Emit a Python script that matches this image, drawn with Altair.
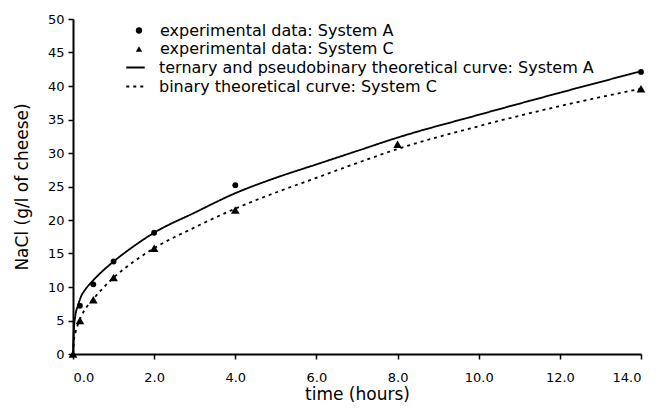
import altair as alt
import pandas as pd

# Experimental data
t_a = [0.17, 0.5, 1, 2, 4, 14]
y_a = [7.2, 10.4, 13.8, 18.1, 25.2, 42.1]
t_c = [0, 0.17, 0.5, 1, 2, 4, 8, 14]
y_c = [0, 5.0, 8.1, 11.4, 15.8, 21.5, 31.3, 39.6]

# Theoretical curves
curve_t_a = [0, 0.02, 0.06, 0.12, 0.2, 0.3, 0.5, 0.75, 1, 1.5, 2, 3, 4, 5, 6, 7, 8, 10, 12, 14]
curve_y_a = [0, 3.5, 5.8, 7.2, 8.6, 9.6, 11.0, 12.5, 13.8, 16.1, 18.1, 21.1, 24.0, 26.3, 28.3, 30.3, 32.3, 35.7, 39.0, 42.2]
curve_t_c = [0, 0.02, 0.06, 0.12, 0.2, 0.3, 0.5, 0.75, 1, 1.5, 2, 3, 4, 5, 6, 7, 8, 10, 12, 14]
curve_y_c = [0, 1.8, 3.2, 4.4, 5.6, 6.7, 8.2, 9.9, 11.4, 13.8, 15.8, 18.9, 21.7, 24.1, 26.3, 28.5, 30.6, 34.0, 37.0, 39.6]

point_labels = ["experimental data: System A", "experimental data: System C"]
line_labels = ["ternary and pseudobinary theoretical curve: System A",
               "binary theoretical curve: System C"]

pts_a = pd.DataFrame({"t": t_a, "y": y_a, "label": point_labels[0]})
pts_c = pd.DataFrame({"t": t_c, "y": y_c, "label": point_labels[1]})
curves = pd.concat([
    pd.DataFrame({"t": curve_t_a, "y": curve_y_a, "label": line_labels[0]}),
    pd.DataFrame({"t": curve_t_c, "y": curve_y_c, "label": line_labels[1]}),
])

font = "DejaVu Sans"

x_enc = alt.X("t:Q", scale=alt.Scale(domain=[0, 14], nice=False),
              axis=alt.Axis(values=[0, 2, 4, 6, 8, 10, 12, 14], format=".1f",
                            title="time (hours)"))
y_enc = alt.Y("y:Q", scale=alt.Scale(domain=[0, 50], nice=False),
              axis=alt.Axis(values=list(range(0, 51, 5)), title="NaCl (g/l of cheese)"))

shape_scale = alt.Scale(domain=point_labels, range=["circle", "triangle-up"])
dash_scale = alt.Scale(domain=line_labels, range=[[1, 0], [3, 4]])

point_legend = alt.Legend(
    title=None, labelLimit=0, orient="none", legendX=58, legendY=3.5,
    symbolSize=40, symbolFillColor="black", symbolStrokeColor="black",
    symbolStrokeWidth=0, symbolOpacity=1, rowPadding=2.5, labelOffset=13,
)
line_legend = alt.Legend(
    title=None, labelLimit=0, orient="none", legendX=52, legendY=38,
    symbolType="stroke", symbolSize=342, symbolStrokeColor="black",
    symbolStrokeWidth=1.8, rowPadding=0, labelOffset=13,
)

lines = alt.Chart(curves).mark_line(color="black", strokeWidth=1.8, interpolate="monotone").encode(
    x=x_enc, y=y_enc,
    strokeDash=alt.StrokeDash("label:N", scale=dash_scale, legend=line_legend),
)

points_a = alt.Chart(pts_a).mark_point(filled=True, color="black", opacity=1, size=34).encode(
    x=x_enc, y=y_enc,
    shape=alt.Shape("label:N", scale=shape_scale, legend=point_legend),
)
points_c = alt.Chart(pts_c).mark_point(filled=True, color="black", opacity=1, size=75).encode(
    x=x_enc, y=y_enc,
    shape=alt.Shape("label:N", scale=shape_scale, legend=point_legend),
)

chart = alt.layer(lines, points_a, points_c).properties(
    width=568, height=335,
    padding={"left": 5, "top": 5, "right": 5, "bottom": 5},
).configure_view(stroke=None).configure_axis(
    grid=False, domainColor="black", domainWidth=2, tickColor="black", tickWidth=1.5,
    tickSize=5, labelFont=font, labelFontSize=13, labelColor="black",
    titleFont=font, titleFontSize=17, titleFontWeight="normal", titleColor="black",
).configure_axisX(labelPadding=12, titlePadding=2).configure_axisY(
    labelPadding=4, titlePadding=16,
).configure_legend(
    labelFont=font, labelFontSize=16, labelColor="black", padding=0,
)

chart.save("out.html", embed_options={"renderer": "svg", "actions": False})
